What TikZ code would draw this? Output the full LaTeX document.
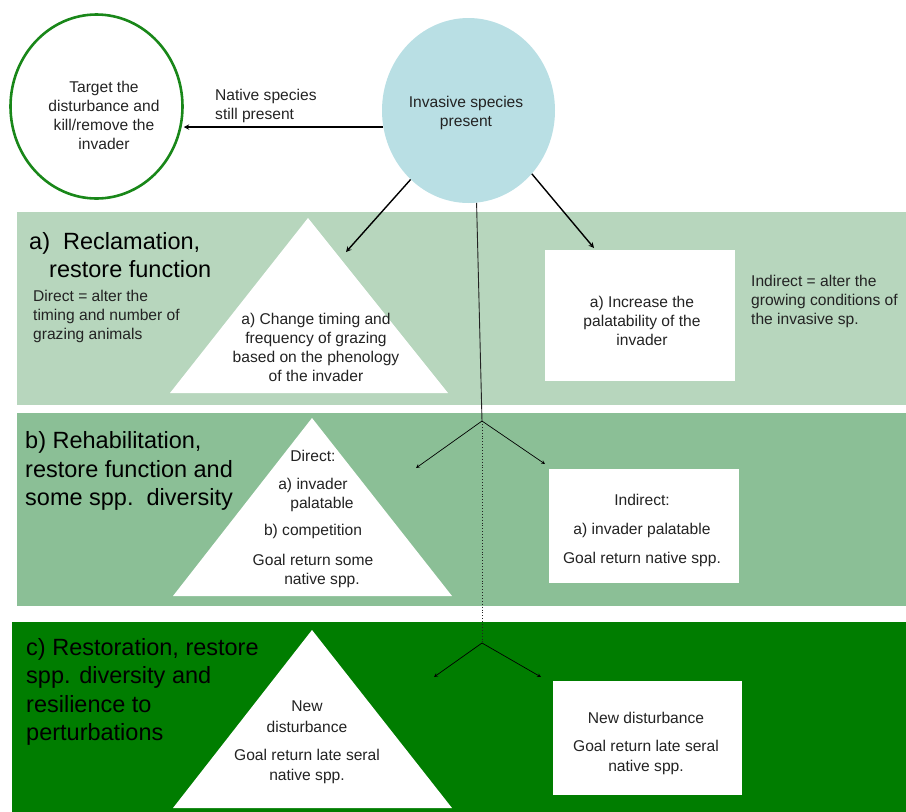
\documentclass[tikz,border=0pt]{standalone}
\usepackage{fontspec}
\setmainfont{Liberation Sans}
\usetikzlibrary{shapes.geometric}

\definecolor{bandA}{RGB}{183,214,189}
\definecolor{bandB}{RGB}{139,191,150}
\definecolor{bandC}{RGB}{0,125,0}
\definecolor{invblue}{RGB}{185,223,228}
\definecolor{ringgreen}{RGB}{25,135,25}
\definecolor{inkgray}{RGB}{35,35,35}

\tikzset{
	txt/.style={font=\fontsize{15.6}{19}\selectfont, text=inkgray, align=center, inner sep=0pt},
	note/.style={txt, align=left, anchor=west},
	heading/.style={font=\fontsize{23.5}{28.5}\selectfont, text=black, align=left, anchor=west, inner sep=0pt},
	whitebox/.style={fill=white, inner sep=0pt},
	bigarrow/.style={->, >=stealth, line width=1.4pt},
	branch/.style={->, >=stealth, line width=0.7pt}
}

\begin{document}
\begin{tikzpicture}[x=1pt, y=-1pt]
	\useasboundingbox (0,0) rectangle (906,812);
	
	\fill [bandA] (17,212) rectangle (906,405);
	\fill [bandB] (17,413) rectangle (906,606);
	\fill [bandC] (12,622) rectangle (906,812);
	
	\node [ellipse, draw=ringgreen, line width=2.6pt, minimum width=172pt, minimum height=184pt, inner sep=0pt] (tgt) at (96.5,106.5) {};
	\node [ellipse, fill=invblue, minimum width=173pt, minimum height=185pt, inner sep=0pt] (inv) at (468.5,110.5) {};
	\node [txt] (tgttxt) at (104,115) {Target the\\disturbance and\\kill/remove the\\invader};
	\node [txt] (invtxt) at (466,113) {Invasive species\\present};
	\node [note] (native) at (215,106) {Native species\\still present};
	
	% a) reclamation
	\node [heading] (headA) at (29,255) {a)\ \ Reclamation,\\\hspace*{20pt}restore function};
	\node [note] (directA) at (33,316) {Direct = alter the\\timing and number of\\grazing animals};
	\fill [white] (308,218) -- (448,393) -- (170,393) -- cycle;
	\node [txt] (triA) at (316,347) {a) Change timing and\\frequency of grazing\\based on the phenology\\of the invader};
	\node [whitebox, minimum width=190pt, minimum height=131pt] (boxA) at (640,315.5) {};
	\node [txt] (boxAtxt) at (642,320.5) {a) Increase the\\palatability of the\\invader};
	\node [note] (indirA) at (751,301) {Indirect = alter the\\growing conditions of\\the invasive sp.};
	
	% b) rehabilitation
	\node [heading] (headB) at (25,471) {b) Rehabilitation,\\restore function and\\some spp.\ \ diversity};
	\fill [white] (312,418) -- (452,596) -- (173,596) -- cycle;
	\node [txt] (triB) at (313,519) {Direct:\\[9pt]a) invader\\\hspace*{18pt}palatable\\[8pt]b) competition\\[11pt]Goal return some\\\hspace*{18pt}native spp.};
	\node [whitebox, minimum width=190pt, minimum height=114pt] (boxB) at (644,525.5) {};
	\node [txt] (boxBtxt) at (642,530) {Indirect:\\[10pt]a) invader palatable\\[10pt]Goal return native spp.};
	
	% c) restoration
	\node [heading] (headC) at (26,692) {c) Restoration, restore\\spp. diversity and\\resilience to\\perturbations};
	\fill [white] (312,630) -- (452,808) -- (173,808) -- cycle;
	\node [txt] (triC) at (307,742) {New\\[2pt]disturbance\\[9pt]Goal return late seral\\[1pt]native spp.};
	\node [whitebox, minimum width=189pt, minimum height=114pt] (boxC) at (647.5,738) {};
	\node [txt] (boxCtxt) at (646,743) {New disturbance\\[9pt]Goal return late seral\\[1pt]native spp.};
	
	\coordinate (hitA) at (346,252);
	\coordinate (hitBoxA) at (594,248);
	\coordinate (forkB) at (482,421);
	\coordinate (forkC) at (482,643);
	\coordinate (toTriB) at (416,468);
	\coordinate (toBoxB) at (545,464);
	\coordinate (toTriC) at (434,677);
	\coordinate (toBoxC) at (541,677);
	
	\draw [bigarrow] (inv.191) -- (inv.191 -| tgt.east);
	\draw [bigarrow] (inv.230) -- (hitA);
	\draw [bigarrow] (inv.-45) -- (hitBoxA);
	\draw [line width=0.9pt, inkgray] (inv.-85) -- (forkB);
	\draw [dotted, line width=0.9pt, inkgray] (forkB) -- (forkC);
	\draw [branch] (forkB) -- (toTriB);
	\draw [branch] (forkB) -- (toBoxB);
	\draw [branch] (forkC) -- (toTriC);
	\draw [branch] (forkC) -- (toBoxC);
\end{tikzpicture}
\end{document}
